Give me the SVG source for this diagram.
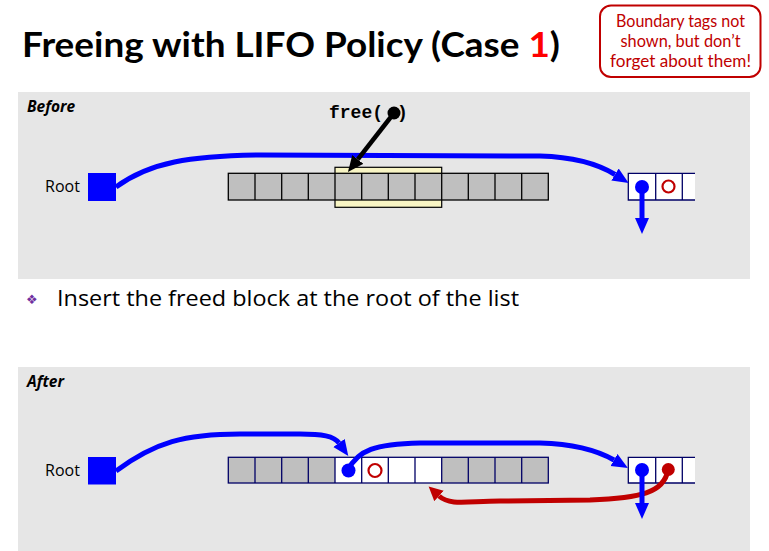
<svg xmlns="http://www.w3.org/2000/svg" width="769" height="551" viewBox="0 0 769 551">
<style>
.panel{fill:#e6e6e6}
.lbl{font-family:"Open Sans","Noto Sans",sans-serif;font-weight:bold;font-style:italic;font-size:15.5px;fill:#000}
.root{font-family:"Open Sans","Noto Sans",sans-serif;font-size:16px;fill:#000}
.rootsq{fill:#0000ff}
.g{fill:#bfbfbf}
.w{fill:#ffffff}
.cb{stroke:#000;stroke-width:1.3;fill:none}
.cn{stroke:#000066;stroke-width:1.3;fill:none}
.blue{stroke:#0000ff;stroke-width:5;fill:none}
.red{stroke:#c00000;stroke-width:5;fill:none}
.blk{stroke:#000;stroke-width:4.5;fill:none}
.bdot{fill:#0000ff}
.rdot{fill:#c00000}
.code{font-family:"Liberation Mono","DejaVu Sans Mono",monospace;font-weight:bold;font-size:18px;fill:#000}
</style>
<defs>
<marker id="ab" markerUnits="userSpaceOnUse" markerWidth="17" markerHeight="15" refX="0" refY="7" orient="auto" viewBox="0 0 17 14"><path d="M0,0 L16,7 L0,14 z" fill="#0000ff"/></marker>
<marker id="ar" markerUnits="userSpaceOnUse" markerWidth="15" markerHeight="15" refX="0" refY="7" orient="auto" viewBox="0 0 15 14"><path d="M0,0 L14,7 L0,14 z" fill="#c00000"/></marker>
<marker id="ak" markerUnits="userSpaceOnUse" markerWidth="17" markerHeight="15" refX="0" refY="7" orient="auto" viewBox="0 0 17 14"><path d="M0,0 L16,7 L0,14 z" fill="#000"/></marker>
</defs>
<rect width="769" height="551" fill="#ffffff"/>

<g id="title">
<text x="22" y="57" font-family="Lato,'Open Sans',sans-serif" font-weight="bold" font-size="34" textLength="538" lengthAdjust="spacingAndGlyphs" fill="#000">Freeing with LIFO Policy (Case <tspan fill="#ff0000">1</tspan>)</text>
</g>

<g id="callout">
<rect x="600" y="5.5" width="160.5" height="71.5" rx="11" fill="#ffffff" stroke="#c00000" stroke-width="2"/>
<g font-family="Lato,'Open Sans',sans-serif" font-size="16.5" fill="#c00000" text-anchor="middle">
<text x="680.5" y="27" textLength="129" lengthAdjust="spacingAndGlyphs">Boundary tags not</text>
<text x="680.5" y="47" textLength="120" lengthAdjust="spacingAndGlyphs">shown, but don’t</text>
<text x="680.5" y="67" textLength="141" lengthAdjust="spacingAndGlyphs">forget about them!</text>
</g>
</g>

<g id="before-panel">
<rect class="panel" x="18" y="92" width="732" height="187"/>
<text class="lbl" x="27" y="112">Before</text>
</g>

<g id="bullet">
<text x="26" y="304" font-family="'DejaVu Sans',sans-serif" font-size="13" fill="#7030a0">❖</text>
<text x="57" y="306" font-family="'Open Sans','Noto Sans',sans-serif" font-size="22" textLength="462" lengthAdjust="spacingAndGlyphs" fill="#000">Insert the freed block at the root of the list</text>
</g>

<g id="after-panel">
<rect class="panel" x="18" y="367" width="732" height="184"/>
<text class="lbl" x="27" y="387">After</text>
</g>

<!-- Before nodes -->
<g id="root-before">
<text class="root" x="45" y="192">Root</text>
<rect class="rootsq" x="88" y="173" width="28" height="28"/>
</g>

<g id="heap-before">
<rect x="335" y="167.3" width="106.7" height="40" fill="#f8f5c4" stroke="#000" stroke-width="1.2"/>
<rect class="g" x="228.3" y="173.3" width="320" height="26.7"/>
<rect class="cb" x="228.3" y="173.3" width="320" height="26.7"/>
<path class="cb" d="M255,173.3V200M281.7,173.3V200M308.3,173.3V200M335,173.3V200M361.7,173.3V200M388.3,173.3V200M415,173.3V200M441.7,173.3V200M468.3,173.3V200M495,173.3V200M521.7,173.3V200"/>
</g>

<g id="free-call">
<text class="code" x="329" y="118">free(</text>
<text class="code" x="397" y="118">)</text>
</g>

<g id="list-before">
<rect class="w" x="628.3" y="173.3" width="66.7" height="26.7"/>
<path class="cn" d="M695,173.3H628.3V200H695M655.7,173.3V200M682.3,173.3V200"/>
<circle cx="668.5" cy="186.5" r="6" fill="none" stroke="#c00000" stroke-width="2.2"/>
</g>

<!-- After nodes -->
<g id="root-after">
<text class="root" x="45" y="476">Root</text>
<rect class="rootsq" x="88" y="457" width="28" height="27.5"/>
</g>

<g id="heap-after">
<rect class="g" x="228.3" y="457.3" width="320" height="25.7"/>
<rect class="w" x="335" y="457.3" width="106.7" height="25.7"/>
<rect class="cn" x="228.3" y="457.3" width="320" height="25.7"/>
<path class="cn" d="M255,457.3V483M281.7,457.3V483M308.3,457.3V483M335,457.3V483M361.7,457.3V483M388.3,457.3V483M415,457.3V483M441.7,457.3V483M468.3,457.3V483M495,457.3V483M521.7,457.3V483"/>
<circle cx="375" cy="470.5" r="6.5" fill="none" stroke="#c00000" stroke-width="2.2"/>
</g>

<g id="list-after">
<rect class="w" x="628.3" y="457.3" width="66.7" height="25.7"/>
<path class="cn" d="M695,457.3H628.3V483H695M655.7,457.3V483M682.3,457.3V483"/>
</g>

<g id="connectors">
<!-- Before -->
<path class="blue" d="M116,187 C150,162 190,156 260,155 L540,156 C575,157 598,164 615,174.5" marker-end="url(#ab)"/>
<path class="blk" d="M394,113 L357.8,159.4" marker-end="url(#ak)"/>
<circle cx="394" cy="113" r="6.5" fill="#000"/>
<path class="blue" stroke-width="4" d="M642,187 V218" marker-end="url(#ab)"/>
<circle class="bdot" cx="642" cy="187" r="7"/>
<!-- After -->
<path class="blue" d="M116,471 C155,442 185,434 240,434 L300,434 C322,434 334,436 339,443" marker-end="url(#ab)"/>
<path class="blue" d="M348,470 C358,450 375,444 420,443 L540,443 C575,444 600,452 614,460" marker-end="url(#ab)"/>
<circle class="bdot" cx="348.5" cy="470.5" r="7"/>
<path class="red" d="M668,470 C664,493 640,498 590,500 L500,501 C468,501 450,506 439,496" marker-end="url(#ar)"/>
<circle class="rdot" cx="668.3" cy="469.5" r="6.5"/>
<path class="blue" stroke-width="4" d="M642,470 V503" marker-end="url(#ab)"/>
<circle class="bdot" cx="642" cy="470" r="7"/>
</g>
</svg>
